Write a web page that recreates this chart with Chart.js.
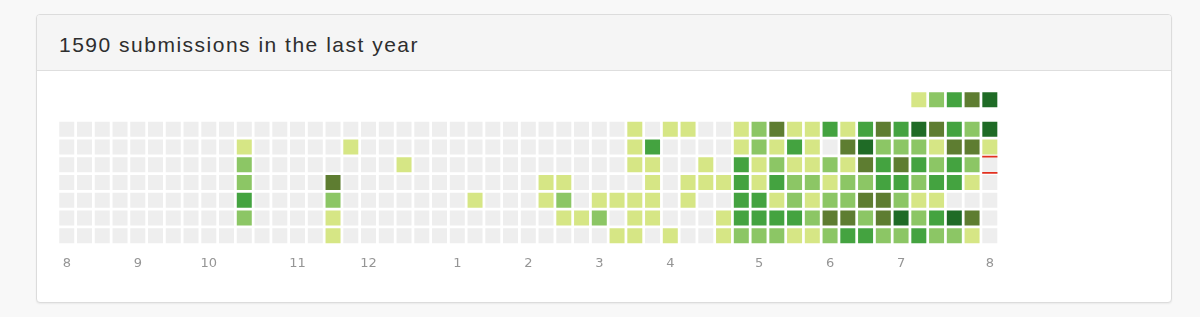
<!DOCTYPE html>
<html>
<head>
<meta charset="utf-8">
<script src="https://cdn.jsdelivr.net/npm/chart.js@4.4.1/dist/chart.umd.min.js"></script>
<style>
  html, body { margin: 0; padding: 0; }
  body { width: 1200px; height: 317px; background: #f8f8f8; position: relative; overflow: hidden; }
  .panel {
    position: absolute; left: 36px; top: 14px; width: 1134px; height: 287px;
    border: 1px solid #dcdcdc; border-radius: 4px; background: #fff;
    box-shadow: 0 1px 2px rgba(0,0,0,0.06); overflow: hidden;
  }
  .panel-head {
    height: 55px; background: #f5f5f5; border-bottom: 1px solid #dedede;
  }
  .panel-head h3 {
    margin: 0; position: absolute; left: 22px; top: 19px;
    font: 21px "Liberation Sans", Arial, sans-serif; letter-spacing: 1.5px;
    color: #2e2e2e; font-weight: normal; line-height: 21px;
  }
  #heatmap { position: absolute; left: 0; top: 56px; }
</style>
</head>
<body>
<div class="panel">
  <div class="panel-head"><h3>1590 submissions in the last year</h3></div>
  <canvas id="heatmap" width="1134" height="231"></canvas>
</div>
<script>
// submission level per day (0 = none, 1..5 = more), one array per weekday row, 53 weeks
const row0 = [0,0,0,0,0,0,0,0,0,0, 0,0,0,0,0,0,0,0,0,0, 0,0,0,0,0,0,0,0,0,0, 0,0,1,0,1,1,0,0,1,2, 4,1,1,3,1,3,4,3,5,4, 3,2,5];
const row1 = [0,0,0,0,0,0,0,0,0,0, 1,0,0,0,0,0,1,0,0,0, 0,0,0,0,0,0,0,0,0,0, 0,0,1,3,0,0,0,0,1,2, 1,3,1,0,4,5,2,2,2,1, 4,4,1];
const row2 = [0,0,0,0,0,0,0,0,0,0, 2,0,0,0,0,0,0,0,0,1, 0,0,0,0,0,0,0,0,0,0, 0,0,1,1,0,0,1,0,3,1, 2,1,1,2,1,4,3,4,3,2, 3,2,0];
const row3 = [0,0,0,0,0,0,0,0,0,0, 2,0,0,0,0,4,0,0,0,0, 0,0,0,0,0,0,0,1,1,0, 0,0,0,1,0,1,1,1,3,1, 3,2,2,1,2,2,3,3,2,3, 3,1,0];
const row4 = [0,0,0,0,0,0,0,0,0,0, 3,0,0,0,0,2,0,0,0,0, 0,0,0,1,0,0,0,1,2,0, 1,1,1,1,0,1,0,0,3,3, 1,2,1,2,2,4,4,2,1,1, 0,0,0];
const row5 = [0,0,0,0,0,0,0,0,0,0, 2,0,0,0,0,1,0,0,0,0, 0,0,0,0,0,0,0,0,1,1, 2,0,1,1,0,0,0,1,3,3, 3,3,2,4,4,2,4,5,2,3, 5,4,0];
const row6 = [0,0,0,0,0,0,0,0,0,0, 0,0,0,0,0,1,0,0,0,0, 0,0,0,0,0,0,0,0,0,0, 0,1,1,0,1,0,0,1,2,2, 2,1,1,2,3,3,2,2,3,2, 2,1,0];
const dayRows = [row0, row1, row2, row3, row4, row5, row6];

// month tick labels and the week column they sit under
const monthCols = [0, 4, 8, 13, 17, 22, 26, 30, 34, 39, 43, 47, 52];
const monthLabels = ['8', '9', '10', '11', '12', '1', '2', '3', '4', '5', '6', '7', '8'];

// legend swatches (levels) shown above the last weeks
const legendLevels = [1, 2, 3, 4, 5];
const legendCols = [48, 49, 50, 51, 52];

// today marker
const todayCol = 52;
const todayRow = 2;

const levelColors = ['#eeeeee', '#d6e685', '#8cc665', '#44a340', '#5e7d31', '#1f6b26'];

const cellSide = 15;
const cellRadius = cellSide / Math.SQRT2; // 'rect' point style draws a square of side radius*sqrt(2)

// build the grid points from the row arrays
const gridPoints = [];
const gridColors = [];
dayRows.forEach((levels, r) => {
  levels.forEach((lvl, c) => {
    gridPoints.push({ x: c, y: r });
    gridColors.push(levelColors[lvl]);
  });
});

const legendY = -1.66;
const legendPoints = legendCols.map(c => ({ x: c, y: legendY }));
const legendColors = legendLevels.map(l => levelColors[l]);

const half = 0.43;
const edge = 0.46;
function markerLine(y) {
  return {
    data: [{ x: todayCol - half, y: y }, { x: todayCol + half, y: y }],
    borderColor: '#e2301f',
    borderWidth: 1.6,
    pointRadius: 0,
    showLine: true,
    fill: false,
    order: 0
  };
}

const ctx = document.getElementById('heatmap').getContext('2d');
const chart = new Chart(ctx, {
  type: 'scatter',
  data: {
    datasets: [
      {
        data: gridPoints,
        pointStyle: 'rect',
        pointRadius: cellRadius,
        pointBackgroundColor: gridColors,
        pointBorderWidth: 0,
        order: 2
      },
      {
        data: legendPoints,
        pointStyle: 'rect',
        pointRadius: cellRadius,
        pointBackgroundColor: legendColors,
        pointBorderWidth: 0,
        order: 2
      },
      markerLine(todayRow - edge),
      markerLine(todayRow + edge)
    ]
  },
  options: {
    responsive: false,
    animation: false,
    events: [],
    layout: {
      padding: { left: 20.9, right: 172.3, top: 13.8, bottom: 30.3 }
    },
    plugins: {
      legend: { display: false },
      tooltip: { enabled: false }
    },
    scales: {
      x: {
        type: 'linear',
        min: -0.5,
        max: 52.5,
        grid: { display: false, drawTicks: false },
        border: { display: false },
        afterBuildTicks: axis => {
          axis.ticks = monthCols.map(v => ({ value: v }));
        },
        afterFit: axis => {
          axis.height = 27;
        },
        ticks: {
          autoSkip: false,
          maxRotation: 0,
          minRotation: 0,
          padding: 11,
          color: '#959595',
          font: { family: 'DejaVu Sans', size: 13 },
          callback: (value, index) => monthLabels[index]
        }
      },
      y: {
        type: 'linear',
        display: false,
        reverse: true,
        min: -2.5,
        max: 6.5
      }
    }
  }
});
</script>
</body>
</html>
